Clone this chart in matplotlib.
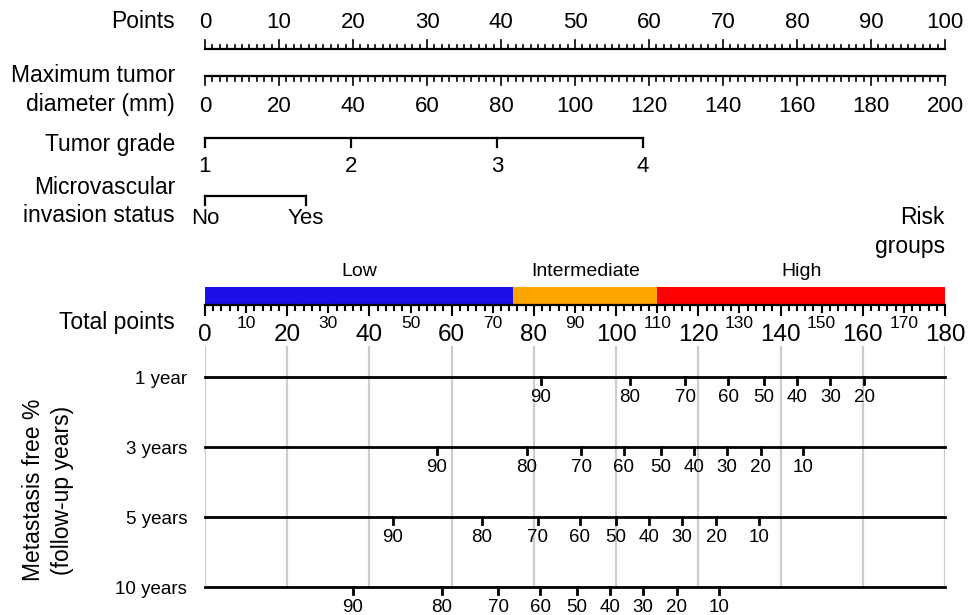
import matplotlib
matplotlib.use("Agg")
import matplotlib.pyplot as plt
import numpy as np

plt.rcParams['font.family'] = ['Liberation Sans', 'DejaVu Sans']

# points scale and predictor scales
points_ticks = list(range(0, 101, 10))
diameter_ticks = list(range(0, 201, 20))     # mm, 200 mm -> 100 points
grade_labels = ["1", "2", "3", "4"]
grade_points = [0, 19.7, 39.5, 59.2]
mvi_labels = ["No", "Yes"]
mvi_points = [0, 13.6]

# total points / risk groups
total_max = 180
total_major = list(range(0, 181, 20))
total_mid = list(range(10, 181, 20))
risk_names = ["Low", "Intermediate", "High"]
risk_bounds = [0, 75, 110, 180]
risk_colors = ["#1c10e6", "#ffa500", "#ff0000"]

# metastasis free % scales (value -> total points)
surv_rows = ["1 year", "3 years", "5 years", "10 years"]
surv_1y_pct = [90, 80, 70, 60, 50, 40, 30, 20]
surv_1y_tp = [81.7, 103.4, 116.8, 127.3, 136.0, 144.0, 152.1, 160.3]
surv_3y_pct = [90, 80, 70, 60, 50, 40, 30, 20, 10]
surv_3y_tp = [56.4, 78.3, 91.5, 101.9, 110.9, 119.0, 127.0, 135.2, 145.5]
surv_5y_pct = [90, 80, 70, 60, 50, 40, 30, 20, 10]
surv_5y_tp = [45.7, 67.4, 81.0, 91.2, 100.0, 108.0, 116.0, 124.3, 134.8]
surv_10y_pct = [90, 80, 70, 60, 50, 40, 30, 20, 10]
surv_10y_tp = [36.0, 57.6, 71.3, 81.5, 90.5, 98.5, 106.5, 114.8, 125.0]


def tp(v):
    return np.asarray(v, dtype=float) * 100.0 / total_max


fig = plt.figure(figsize=(9.69, 6.15), dpi=100)
W, H = 969, 615
ax = fig.add_axes([205 / W, 0, 740 / W, 1])
ax.set_xlim(0, 100)
ax.set_ylim(615, 0)
ax.axis("off")

lab_x = -4.05
k = dict(color="black", clip_on=False)
fs = 16.5
fs_tick = 16

# Points
y = 49
ax.plot([0, 100], [y, y], lw=1.6, **k)
for v in range(0, 101):
    ln = 9 if v % 10 == 0 else 4.5
    ax.plot([v, v], [y, y - ln], lw=1.2, **k)
for v in points_ticks:
    ax.text(v, 22, str(v), ha="center", va="center", fontsize=fs_tick)
ax.text(lab_x, 22, "Points", ha="right", va="center", fontsize=fs)

# Maximum tumor diameter
y = 76
ax.plot([0, 100], [y, y], lw=1.6, **k)
for v in range(0, 201, 2):
    ln = 9 if v % 20 == 0 else 4.5
    ax.plot([v / 2, v / 2], [y, y + ln], lw=1.2, **k)
for v in diameter_ticks:
    ax.text(v / 2, 106, str(v), ha="center", va="center", fontsize=fs_tick)
ax.text(lab_x, 76, "Maximum tumor", ha="right", va="center", fontsize=fs)
ax.text(lab_x, 104, "diameter (mm)", ha="right", va="center", fontsize=fs)

# Tumor grade
y = 138
ax.plot([grade_points[0], grade_points[-1]], [y, y], lw=1.6, **k)
for p, s in zip(grade_points, grade_labels):
    ax.plot([p, p], [y, y + 9], lw=1.6, **k)
    ax.text(p, 166, s, ha="center", va="center", fontsize=fs_tick)
ax.text(lab_x, 145, "Tumor grade", ha="right", va="center", fontsize=fs)

# Microvascular invasion
y = 196
ax.plot([mvi_points[0], mvi_points[-1]], [y, y], lw=1.6, **k)
for p, s in zip(mvi_points, mvi_labels):
    ax.plot([p, p], [y, y + 9], lw=1.6, **k)
    ax.text(p, 218, s, ha="center", va="center", fontsize=fs_tick)
ax.text(lab_x, 187, "Microvascular", ha="right", va="center", fontsize=fs)
ax.text(lab_x, 216, "invasion status", ha="right", va="center", fontsize=fs)

# Risk groups
ax.text(100, 218, "Risk", ha="right", va="center", fontsize=fs)
ax.text(100, 247, "groups", ha="right", va="center", fontsize=fs)
for i, name in enumerate(risk_names):
    a, b = tp(risk_bounds[i]), tp(risk_bounds[i + 1])
    ax.fill_between([a, b], 287, 305, color=risk_colors[i], lw=0)
    ax.text((a + b) / 2, 272, name, ha="center", va="center", fontsize=14)

# Total points
y = 305
ax.plot([0, 100], [y, y], lw=1.6, **k)
for v in range(0, total_max + 1, 2):
    ln = 10 if v % 20 == 0 else (7 if v % 10 == 0 else 4.5)
    ax.plot([tp(v), tp(v)], [y, y + ln], lw=1.5, **k)
for v in total_major:
    ax.text(tp(v), 335, str(v), ha="center", va="center", fontsize=17.5)
for v in total_mid:
    ax.text(tp(v), 324, str(v), ha="center", va="center", fontsize=12.5)
ax.text(lab_x, 322, "Total points", ha="right", va="center", fontsize=fs)

# grid lines
for v in total_major:
    ax.plot([tp(v), tp(v)], [347, 587], color="#cccccc", lw=1.6, zorder=0)

# survival scales
surv_y = [377, 447, 517, 587]
surv_pct = [surv_1y_pct, surv_3y_pct, surv_5y_pct, surv_10y_pct]
surv_tp = [surv_1y_tp, surv_3y_tp, surv_5y_tp, surv_10y_tp]
for name, y, pcts, tps in zip(surv_rows, surv_y, surv_pct, surv_tp):
    ax.plot([0, 100], [y, y], lw=2, **k)
    for pc, t in zip(pcts, tps):
        ax.plot([tp(t), tp(t)], [y, y + 7], lw=2, **k)
        ax.text(tp(t), y + 21, str(pc), ha="center", va="center", fontsize=13.5)
    ax.text(-2.4, y + 2, name, ha="right", va="center", fontsize=13.5)

ax.text(-21.2, 490, "Metastasis free %\n(follow-up years)", rotation=90,
        ha="center", va="center", multialignment="center", fontsize=16.5,
        linespacing=1.3, clip_on=False)

fig.savefig("out.png", dpi=100)
